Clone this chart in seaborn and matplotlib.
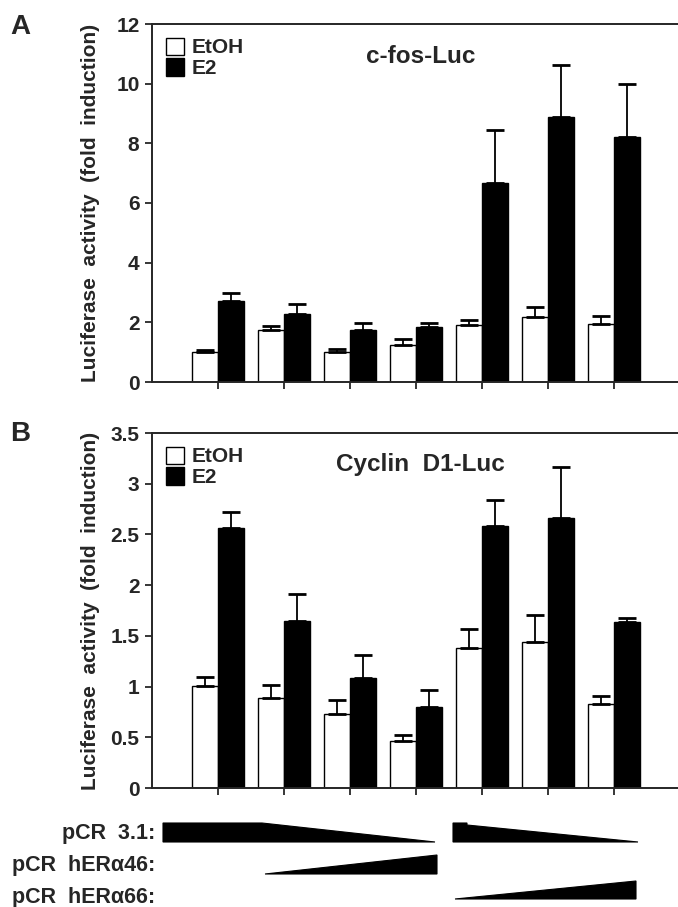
import numpy as np
import pandas as pd
import matplotlib
matplotlib.use("Agg")
import matplotlib.pyplot as plt
import seaborn as sns
from matplotlib.patches import Polygon
from matplotlib.ticker import FuncFormatter, MultipleLocator

# ---------------- data ----------------
constructs = ["1", "2", "3", "4", "5", "6", "7"]
treatments = ["EtOH", "E2"]

fos_etoh = [1.00, 1.73, 1.00, 1.25, 1.92, 2.19, 1.93]
fos_etoh_err = [0.06, 0.16, 0.11, 0.18, 0.17, 0.32, 0.27]
fos_e2 = [2.73, 2.28, 1.75, 1.84, 6.68, 8.89, 8.22]
fos_e2_err = [0.24, 0.34, 0.23, 0.14, 1.78, 1.73, 1.77]

cyc_etoh = [1.01, 0.89, 0.73, 0.46, 1.38, 1.44, 0.83]
cyc_etoh_err = [0.08, 0.13, 0.14, 0.06, 0.19, 0.27, 0.08]
cyc_e2 = [2.56, 1.65, 1.08, 0.80, 2.58, 2.66, 1.64]
cyc_e2_err = [0.16, 0.26, 0.23, 0.17, 0.26, 0.50, 0.04]

panel_titles = ["c-fos-Luc", "Cyclin  D1-Luc"]
ylabel = "Luciferase  activity  (fold  induction)"
plasmid_labels = ["pCR  3.1:", "pCR  hER\u03b146:", "pCR  hER\u03b166:"]

# ---------------- style ----------------
sns.set_style("ticks")
plt.rcParams["font.family"] = ["Liberation Sans", "DejaVu Sans"]
plt.rcParams["font.weight"] = "bold"
plt.rcParams["axes.linewidth"] = 1.4

W, H = 678, 907
fig = plt.figure(figsize=(W / 100, H / 100), dpi=100)


def fx(px):
    return px / W


def fy(py):
    return 1 - py / H


left = fx(152)
axA = fig.add_axes([left, fy(382), 1 - left, fy(24) - fy(382)])
axB = fig.add_axes([left, fy(788), 1 - left, fy(433) - fy(788)])

palette = {"EtOH": "white", "E2": "black"}


def panel(ax, etoh, etoh_err, e2, e2_err, ymax, step, title):
    df = pd.DataFrame({
        "construct": constructs * 2,
        "treatment": ["EtOH"] * len(constructs) + ["E2"] * len(constructs),
        "value": list(etoh) + list(e2),
    })
    sns.barplot(data=df, x="construct", y="value", hue="treatment",
                order=constructs, hue_order=treatments, palette=palette,
                edgecolor="black", linewidth=1.0, errorbar=None, width=0.8,
                ax=ax)
    errs = {"EtOH": etoh_err, "E2": e2_err}
    for cont, t in zip(ax.containers, treatments):
        xs = [p.get_x() + p.get_width() / 2 for p in cont]
        ys = [p.get_height() for p in cont]
        ax.errorbar(xs, ys, yerr=[np.zeros(len(xs)), errs[t]], fmt="none",
                    ecolor="black", elinewidth=1.3, capsize=6.5, capthick=2.0,
                    zorder=3)
    ax.set_xlim(-1, 6.97)
    ax.set_ylim(0, ymax)
    ax.yaxis.set_major_locator(MultipleLocator(step))
    ax.yaxis.set_major_formatter(FuncFormatter(lambda v, p: f"{v:g}"))
    ax.set_xticks(range(len(constructs)))
    ax.set_xticklabels([])
    ax.set_xlabel("")
    ax.set_ylabel(ylabel, fontsize=15, fontweight="bold")
    ax.yaxis.set_label_coords(-0.098, 0.5)
    ax.tick_params(axis="both", direction="out", length=5, width=1.3,
                   labelsize=15, pad=4)
    for lab in ax.get_yticklabels():
        lab.set_fontweight("bold")
    ax.spines["right"].set_visible(False)
    ax.spines["top"].set_visible(True)
    handles, labels = ax.get_legend_handles_labels()
    leg = ax.legend(handles, labels, loc="upper left", frameon=False,
                    fontsize=15, handlelength=0.9, handleheight=0.9,
                    handletextpad=0.35, labelspacing=0.05,
                    borderaxespad=0.2, borderpad=0.45)
    for txt in leg.get_texts():
        txt.set_fontweight("bold")
    ax.text(0.51, 0.91, title, transform=ax.transAxes, ha="center",
            va="center", fontsize=17.5, fontweight="bold")


panel(axA, fos_etoh, fos_etoh_err, fos_e2, fos_e2_err, 12, 2, panel_titles[0])
panel(axB, cyc_etoh, cyc_etoh_err, cyc_e2, cyc_e2_err, 3.5, 0.5, panel_titles[1])

fig.text(fx(10), fy(27), "A", fontsize=20, fontweight="bold", va="center", ha="left")
fig.text(fx(10), fy(434), "B", fontsize=20, fontweight="bold", va="center", ha="left")

# ---------------- plasmid schematic ----------------
axS = fig.add_axes([left, 0, 1 - left, fy(800)])
axS.set_xlim(152, 678)
axS.set_ylim(907, 800)
axS.axis("off")

shapes = [
    [(163, 823), (262, 823), (435, 842), (163, 842)],
    [(453, 823), (467, 823), (467, 825), (638, 842), (453, 842)],
    [(265, 874), (437, 855), (437, 874)],
    [(455, 899), (636, 881), (636, 899)],
]
for sh in shapes:
    axS.add_patch(Polygon(sh, closed=True, facecolor="black", edgecolor="black", lw=0.8))

label_y = [833, 866, 897]
for lab, y in zip(plasmid_labels, label_y):
    fig.text(fx(155), fy(y), lab, ha="right", va="center", fontsize=15.5,
             fontweight="bold")

fig.savefig("out.png", dpi=100)
